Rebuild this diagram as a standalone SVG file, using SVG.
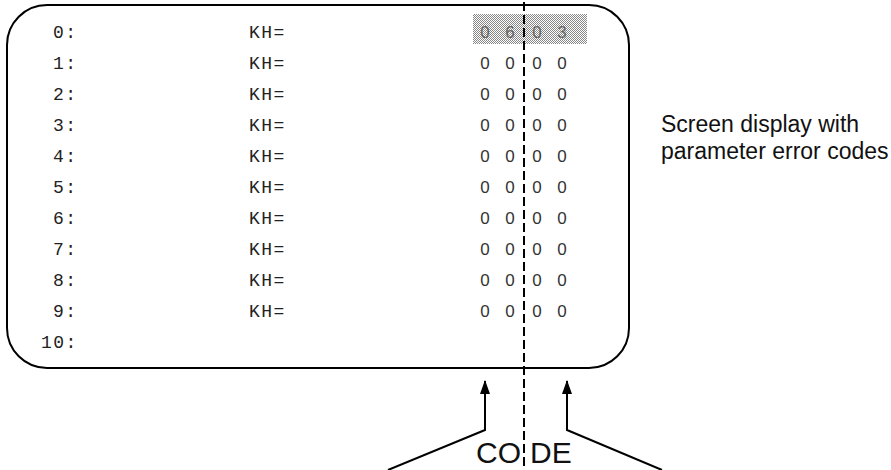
<svg xmlns="http://www.w3.org/2000/svg" width="891" height="470" viewBox="0 0 891 470">
<style>
.mono{font-family:"Liberation Mono","DejaVu Sans Mono",monospace;font-size:18px;letter-spacing:1.5px;fill:#222}
.dig{font-family:"Liberation Sans",Arial,sans-serif;font-size:17px;fill:#333;text-anchor:middle}
.dig0{font-family:"Liberation Sans",Arial,sans-serif;font-size:17px;fill:#666;text-anchor:middle}
.lbl{font-family:"Liberation Sans",Arial,sans-serif;font-size:23px;fill:#111}
.code{font-family:"Liberation Sans",Arial,sans-serif;font-size:30px;fill:#111}
.ln{fill:none;stroke:#000;stroke-width:2}
</style>
<defs>
<pattern id="dots" width="2" height="2" patternUnits="userSpaceOnUse">
<rect width="2" height="2" fill="#fff"/>
<rect width="1" height="1" fill="#888"/>
<rect x="1" y="1" width="1" height="1" fill="#888"/>
</pattern>
<marker id="ah" markerWidth="14" markerHeight="10" refX="13" refY="5" orient="auto" markerUnits="userSpaceOnUse" viewBox="0 0 14 10">
<path d="M0,0 L14,5 L0,10 Z" fill="#000"/>
</marker>
</defs>
<g id="screen">
<rect class="ln" x="7" y="5" width="622" height="363" rx="40" ry="40"/>
<rect x="473" y="14" width="114" height="30" fill="url(#dots)"/>
</g>
<g id="rows">
<text class="mono" x="53" y="38">0:</text>
<text class="mono" x="53" y="69">1:</text>
<text class="mono" x="53" y="100">2:</text>
<text class="mono" x="53" y="131">3:</text>
<text class="mono" x="53" y="162">4:</text>
<text class="mono" x="53" y="193">5:</text>
<text class="mono" x="53" y="224">6:</text>
<text class="mono" x="53" y="255">7:</text>
<text class="mono" x="53" y="286">8:</text>
<text class="mono" x="53" y="317">9:</text>
<text class="mono" x="41" y="348">10:</text>
<text class="mono" x="249" y="38">KH=</text>
<text class="mono" x="249" y="69">KH=</text>
<text class="mono" x="249" y="100">KH=</text>
<text class="mono" x="249" y="131">KH=</text>
<text class="mono" x="249" y="162">KH=</text>
<text class="mono" x="249" y="193">KH=</text>
<text class="mono" x="249" y="224">KH=</text>
<text class="mono" x="249" y="255">KH=</text>
<text class="mono" x="249" y="286">KH=</text>
<text class="mono" x="249" y="317">KH=</text>
</g>
<g id="codes">
<text class="dig0" y="38"><tspan x="485">0</tspan><tspan x="510">6</tspan><tspan x="537">0</tspan><tspan x="562">3</tspan></text>
<text class="dig" y="69"><tspan x="485">0</tspan><tspan x="510">0</tspan><tspan x="537">0</tspan><tspan x="562">0</tspan></text>
<text class="dig" y="100"><tspan x="485">0</tspan><tspan x="510">0</tspan><tspan x="537">0</tspan><tspan x="562">0</tspan></text>
<text class="dig" y="131"><tspan x="485">0</tspan><tspan x="510">0</tspan><tspan x="537">0</tspan><tspan x="562">0</tspan></text>
<text class="dig" y="162"><tspan x="485">0</tspan><tspan x="510">0</tspan><tspan x="537">0</tspan><tspan x="562">0</tspan></text>
<text class="dig" y="193"><tspan x="485">0</tspan><tspan x="510">0</tspan><tspan x="537">0</tspan><tspan x="562">0</tspan></text>
<text class="dig" y="224"><tspan x="485">0</tspan><tspan x="510">0</tspan><tspan x="537">0</tspan><tspan x="562">0</tspan></text>
<text class="dig" y="255"><tspan x="485">0</tspan><tspan x="510">0</tspan><tspan x="537">0</tspan><tspan x="562">0</tspan></text>
<text class="dig" y="286"><tspan x="485">0</tspan><tspan x="510">0</tspan><tspan x="537">0</tspan><tspan x="562">0</tspan></text>
<text class="dig" y="317"><tspan x="485">0</tspan><tspan x="510">0</tspan><tspan x="537">0</tspan><tspan x="562">0</tspan></text>
</g>
<g id="caption">
<text class="lbl" x="661" y="132">Screen display with</text>
<text class="lbl" x="661" y="159">parameter error codes</text>
</g>
<g id="code-label">
<text class="code" x="476" y="463">CO</text>
<text class="code" x="530" y="463">DE</text>
</g>
<g id="connectors">
<line x1="524" y1="2" x2="524" y2="470" stroke="#000" stroke-width="2" stroke-dasharray="9,4"/>
<polyline class="ln" points="388,470 485,430 485,381" marker-end="url(#ah)"/>
<polyline class="ln" points="662,470 567,430 567,381" marker-end="url(#ah)"/>
</g>
</svg>
